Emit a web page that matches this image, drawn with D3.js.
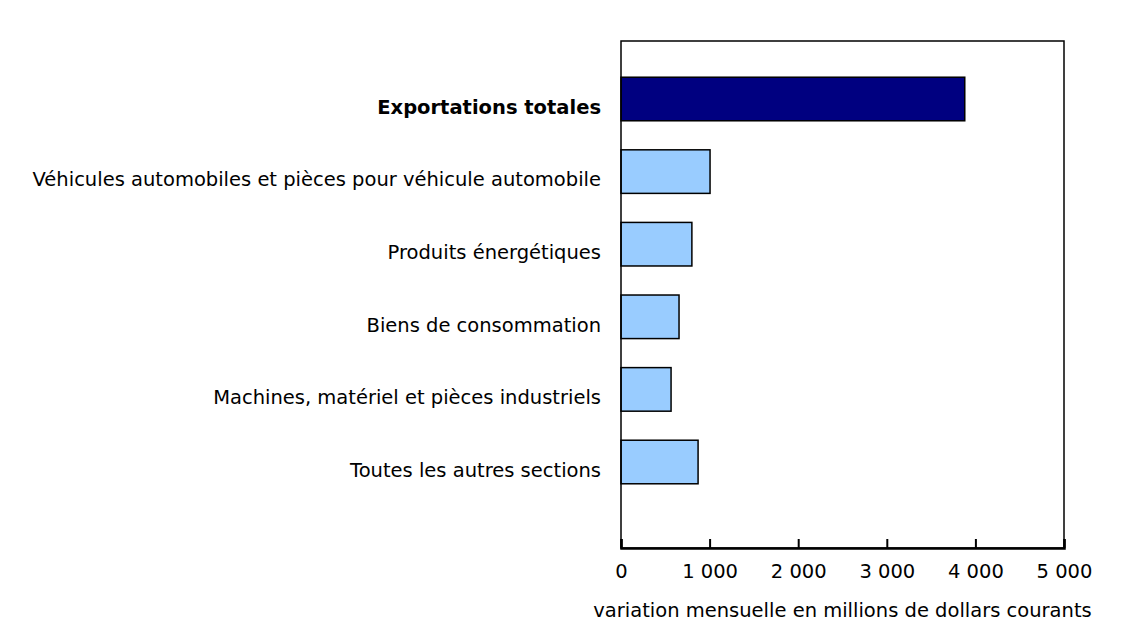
<!DOCTYPE html>
<html>
<head>
<meta charset="utf-8">
<script src="https://cdn.jsdelivr.net/npm/d3@7"></script>
<style>
  body { margin: 0; background: #fff; }
  text { font-family: "DejaVu Sans", Verdana, sans-serif; fill: #000; }
</style>
</head>
<body>
<div class="canvas"></div>
<script>
// DATA ------------------------------------------------------------------------
const categories = [
    'Exportations totales',
    'Véhicules automobiles et pièces pour véhicule automobile',
    'Produits énergétiques',
    'Biens de consommation',
    'Machines, matériel et pièces industriels',
    'Toutes les autres sections'
];
const values = [3880, 1005, 800, 655, 565, 870];
const tickValues = [0, 1000, 2000, 3000, 4000, 5000];
const axisTitle = 'variation mensuelle en millions de dollars courants';

// SET UP GRAPH ----------------------------------------------------------------
const svg = d3.select('.canvas')
    .append('svg')
        .attr('width', 1131)
        .attr('height', 627);

const margin = { top: 41, right: 67, bottom: 79, left: 621 };
const graphWidth = 1131 - margin.left - margin.right;
const graphHeight = 627 - margin.top - margin.bottom;
const fontSize = '19.5px';

const graph = svg.append('g')
    .attr('transform', `translate(${margin.left}, ${margin.top})`);

const x = d3.scaleLinear()
    .domain([0, 5000])
    .range([0, graphWidth]);

// bands sit a bit above centre, leaving an empty slot at the bottom
const y = d3.scaleBand()
    .domain(categories)
    .range([21.7, 457.3])
    .paddingInner(0.4)
    .paddingOuter(0.2);

const data = categories.map((c, i) => ({ name: c, value: values[i], total: i === 0 }));

// bars
graph.selectAll('rect.bar')
    .data(data)
    .enter()
    .append('rect')
        .attr('class', 'bar')
        .attr('x', x(0))
        .attr('y', d => y(d.name))
        .attr('width', d => x(d.value) - x(0))
        .attr('height', y.bandwidth())
        .attr('fill', d => d.total ? '#000080' : '#99ccff')
        .attr('stroke', '#000')
        .attr('stroke-width', 1.5);

// frame
graph.append('rect')
    .attr('x', 0)
    .attr('y', 0)
    .attr('width', graphWidth)
    .attr('height', graphHeight)
    .attr('fill', 'none')
    .attr('stroke', '#000')
    .attr('stroke-width', 1.5);

// x axis with ticks pointing inward
const xAxis = d3.axisBottom(x)
    .tickValues(tickValues)
    .tickSize(-9)
    .tickFormat(d => d3.format(',')(d).replace(/,/g, ' '));

const xAxisGroup = graph.append('g')
    .attr('transform', `translate(0, ${graphHeight})`)
    .call(xAxis);

xAxisGroup.select('.domain')
    .attr('stroke', '#000')
    .attr('stroke-width', 2.5);
xAxisGroup.selectAll('.tick line')
    .attr('stroke', '#000')
    .attr('stroke-width', 2);
xAxisGroup.selectAll('.tick text')
    .attr('y', 30)
    .attr('dy', 0)
    .attr('fill', '#000')
    .style('font-family', '"DejaVu Sans", Verdana, sans-serif')
    .style('font-size', fontSize);

// category labels (top of text lines up with bar centre)
graph.selectAll('text.cat')
    .data(data)
    .enter()
    .append('text')
        .attr('class', 'cat')
        .attr('x', -20)
        .attr('y', d => y(d.name) + y.bandwidth() / 2 + 14.8)
        .attr('text-anchor', 'end')
        .style('font-size', fontSize)
        .style('font-weight', d => d.total ? 700 : 400)
        .text(d => d.name);

// axis title
svg.append('text')
    .attr('x', margin.left + graphWidth / 2)
    .attr('y', 617)
    .attr('text-anchor', 'middle')
    .style('font-size', fontSize)
    .text(axisTitle);
</script>
</body>
</html>
